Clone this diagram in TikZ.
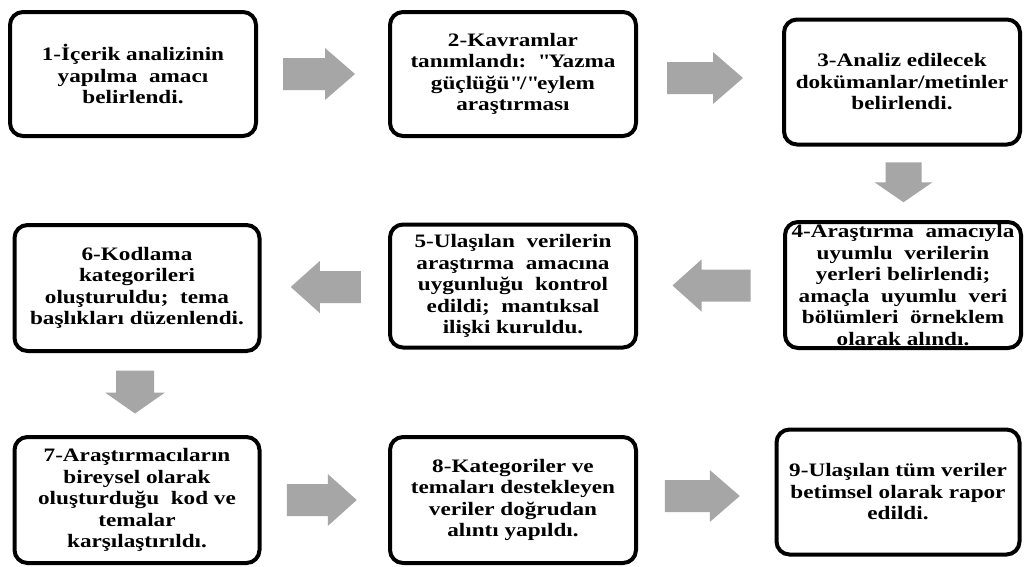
\documentclass[tikz,border=0pt]{standalone}
\usepackage{fontspec}
\setmainfont{Liberation Serif}[FakeStretch=1.22]
\usetikzlibrary{calc}
\definecolor{arrgray}{RGB}{166,166,166}
\newcommand\qq{{\XeTeXglyph\numexpr\XeTeXglyphindex "quotedbl"\relax}}
% block arrow: #1 centre, #2 rotation, #3 length, #4 head length, #5 shaft half-width, #6 head half-width
\newcommand\blockarr[6]{\fill[arrgray, shift={(#1)}, rotate=#2]
  ({-#3/2},{-#5}) -- ({#3/2-#4},{-#5}) -- ({#3/2-#4},{-#6}) -- ({#3/2},0)
  -- ({#3/2-#4},{#6}) -- ({#3/2-#4},{#5}) -- ({-#3/2},{#5}) -- cycle;}
\begin{document}
\begin{tikzpicture}[x=1pt,y=-1pt,
  box/.style={draw=black, line width=4pt, rounded corners=13pt, fill=white,
    inner sep=0pt, align=center, font=\fontsize{19}{21.5}\selectfont\bfseries},
]
\useasboundingbox[fill=white] (0,0) rectangle (1025,566);

\node[box, minimum width=246pt, minimum height=124pt] (b1) at (133,74)
  {1-İçerik analizinin\\yapılma\ \ amacı\\belirlendi.};
\node[box, minimum width=246pt, minimum height=124pt] (b2) at (513,74)
  {2-Kavramlar\\tanımlandı:\ \ \qq Yazma\\güçlüğü\qq/\qq eylem\\araştırması};
\node[box, minimum width=236pt, minimum height=125pt] (b3) at (902,82)
  {3-Analiz edilecek\\dokümanlar/metinler\\belirlendi.};
\node[box, minimum width=236pt, minimum height=126pt] (b4) at (903,285)
  {4-Araştırma\ \ amacıyla\\uyumlu\ \ verilerin\\yerleri belirlendi;\\amaçla\ \ uyumlu\ \ veri\\bölümleri\ \ örneklem\\olarak alındı.};
\node[box, minimum width=246pt, minimum height=123pt] (b5) at (513,286)
  {5-Ulaşılan\ \ verilerin\\araştırma\ \ amacına\\uygunluğu\ \ kontrol\\edildi;\ \ mantıksal\\ilişki kuruldu.};
\node[box, minimum width=245pt, minimum height=126pt] (b6) at (137,288)
  {6-Kodlama\\kategorileri\\oluşturuldu;\ \ tema\\başlıkları düzenlendi.};
\node[box, minimum width=245pt, minimum height=126pt] (b7) at (137,500)
  {7-Araştırmacıların\\bireysel olarak\\oluşturduğu\ \ kod ve\\temalar\\karşılaştırıldı.};
\node[box, minimum width=246pt, minimum height=126pt] (b8) at (513,500)
  {8-Kategoriler ve\\temaları destekleyen\\veriler doğrudan\\alıntı yapıldı.};
\node[box, minimum width=243pt, minimum height=125pt] (b9) at (898,492)
  {9-Ulaşılan tüm veriler\\betimsel olarak rapor\\edildi.};

\coordinate (m12) at ($(b1.east)!0.5!(b2.west)+(-4,0)$);
\coordinate (m23) at ($(b2.east)!0.5!(b3.west)+(-5,0)$);
\coordinate (m34) at ($(b3.south)!0.5!(b4.north)+(1,-1)$);
\coordinate (m45) at ($(b4.west)!0.5!(b5.east)+(1,0)$);
\coordinate (m56) at ($(b5.west)!0.5!(b6.east)+(1,0)$);
\coordinate (m67) at ($(b6.south)!0.5!(b7.north)+(-2,-2)$);
\coordinate (m78) at ($(b7.east)!0.5!(b8.west)+(-3,0)$);
\coordinate (m89) at ($(b8.east)!0.5!(b9.west)+(-4,0)$);

\blockarr{m12}{0}{72}{30}{16}{26}
\blockarr{m23}{0}{76}{30}{16}{26}
\blockarr{m34}{-90}{40}{20}{18}{29}
\blockarr{m45}{180}{78}{29}{16}{26}
\blockarr{m56}{180}{70}{29}{16}{26}
\blockarr{m67}{-90}{43}{21}{19}{30}
\blockarr{m78}{0}{70}{29}{16}{26}
\blockarr{m89}{0}{75}{30}{16}{26}
\end{tikzpicture}
\end{document}
